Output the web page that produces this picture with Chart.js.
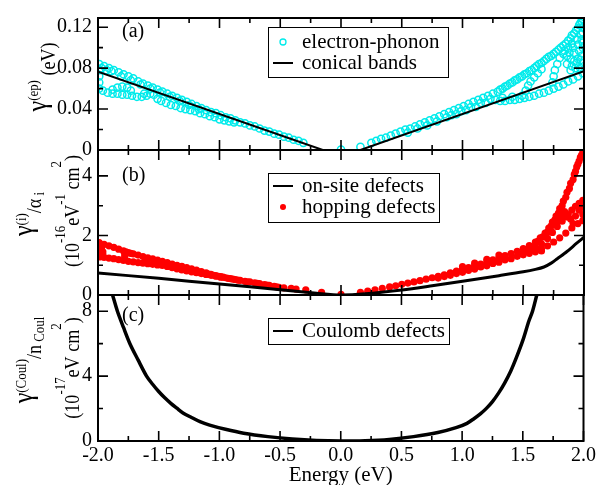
<!DOCTYPE html>
<html lang="en">
<head>
<meta charset="UTF-8">
<title>Scattering rates vs energy</title>
<script src="https://cdn.jsdelivr.net/npm/chart.js"></script>
<style>
  body { margin: 0; background: #fff; }
  #wrap { position: relative; width: 599px; height: 485px; }
  #wrap canvas { position: absolute; left: 0; top: 0; }
</style>
</head>
<body>
<div id="wrap">
  <canvas id="panelA" width="599" height="485"></canvas>
  <canvas id="panelB" width="599" height="485"></canvas>
  <canvas id="panelC" width="599" height="485"></canvas>
</div>
<script>
// ---- data: [energy (eV), value] ----
const energyTicks = [-2.0, -1.75, -1.5, -1.25, -1.0, -0.75, -0.5, -0.25, 0, 0.25, 0.5, 0.75, 1.0, 1.25, 1.5, 1.75, 2.0];
const ticksA = [0, 0.02, 0.04, 0.06, 0.08, 0.10, 0.12];
const ticksB = [0, 1, 2, 3, 4];
const ticksC = [0, 2, 4, 6, 8];

// (a) electron-phonon
const conical = [[-2.0, 0.0766], [-0.15, 0], [0.16, 0], [2.0, 0.077]];
const epLeftUpper = [[-1.99,0.084],[-1.95,0.082],[-1.91,0.080],[-1.87,0.078],[-1.83,0.076],[-1.79,0.074],[-1.75,0.072],[-1.71,0.070],[-1.67,0.067],[-1.63,0.065],[-1.59,0.063],[-1.55,0.061],[-1.51,0.059],[-1.47,0.057],[-1.43,0.055],[-1.39,0.053],[-1.35,0.051],[-1.31,0.049],[-1.27,0.047],[-1.23,0.045],[-1.19,0.043],[-1.15,0.041],[-1.11,0.039],[-1.07,0.037],[-1.03,0.036],[-0.99,0.034],[-0.95,0.032],[-0.91,0.031],[-0.87,0.029],[-0.83,0.027],[-0.79,0.026],[-0.75,0.024],[-0.71,0.023],[-0.67,0.021],[-0.63,0.019],[-0.59,0.018],[-0.55,0.016],[-0.51,0.015],[-0.47,0.013],[-0.43,0.012],[-0.39,0.010],[-0.35,0.009],[-0.31,0.007]];
const epLeftUpper2 = [[-1.97,0.080],[-1.93,0.078],[-1.89,0.077],[-1.81,0.072],[-1.73,0.068],[-1.65,0.064],[-1.57,0.060],[-1.49,0.056],[-1.41,0.052],[-1.33,0.048],[-1.25,0.044],[-1.17,0.040]];
const epLeftLower = [[-1.99,0.060],[-1.99,0.066],[-1.99,0.072],[-1.99,0.078],[-1.96,0.058],[-1.92,0.056],[-1.88,0.055],[-1.84,0.055],[-1.80,0.054],[-1.76,0.054],[-1.72,0.053],[-1.88,0.059],[-1.84,0.061],[-1.80,0.062],[-1.76,0.061],[-1.73,0.058],[-1.68,0.052],[-1.64,0.052],[-1.60,0.053],[-1.57,0.055],[-1.54,0.054],[-1.51,0.050],[-1.62,0.055],[-1.48,0.048],[-1.44,0.046],[-1.40,0.044],[-1.36,0.043],[-1.32,0.041],[-1.28,0.040],[-1.24,0.039],[-1.20,0.038],[-1.16,0.036],[-1.12,0.035],[-1.08,0.033],[-1.04,0.032],[-1.00,0.030],[-0.96,0.029],[-0.92,0.028],[-0.88,0.027]];
const epCenter = [[0.0,0.0005],[0.16,0.003]];
const epRightMain = [[0.25,0.007],[0.29,0.009],[0.33,0.011],[0.37,0.012],[0.41,0.014],[0.45,0.016],[0.49,0.018],[0.53,0.020],[0.57,0.021],[0.61,0.023],[0.65,0.025],[0.69,0.027],[0.73,0.029],[0.77,0.031],[0.81,0.033],[0.85,0.035],[0.89,0.037],[0.93,0.039],[0.97,0.041],[1.01,0.043],[1.05,0.045],[1.09,0.047],[1.13,0.049],[1.17,0.051],[1.21,0.053],[1.25,0.055],[0.55,0.017],[0.63,0.021],[0.71,0.024],[0.79,0.028],[0.87,0.032],[0.95,0.035],[1.03,0.039],[1.11,0.042],[1.19,0.046],[1.27,0.049],[0.91,0.034],[0.99,0.038],[1.07,0.042],[1.15,0.046],[1.23,0.050]];
const epRightUpper = [[1.29,0.057],[1.33,0.060],[1.37,0.063],[1.41,0.066],[1.45,0.069],[1.49,0.072],[1.53,0.075],[1.57,0.078],[1.61,0.082],[1.65,0.085],[1.69,0.089],[1.73,0.092],[1.77,0.096],[1.81,0.100],[1.85,0.104],[1.89,0.109],[1.92,0.114],[1.95,0.119],[1.97,0.124],[1.99,0.128]];
const epRightUpper2 = [[1.31,0.059],[1.35,0.062],[1.39,0.065],[1.43,0.068],[1.47,0.071],[1.51,0.074],[1.55,0.077],[1.59,0.080],[1.63,0.084],[1.67,0.087],[1.71,0.091],[1.75,0.094],[1.79,0.098],[1.83,0.102],[1.87,0.107],[1.90,0.112],[1.935,0.117],[1.96,0.122],[1.98,0.126]];
const epRightLower = [[1.31,0.048],[1.35,0.048],[1.39,0.049],[1.43,0.049],[1.47,0.050],[1.51,0.051],[1.55,0.052],[1.59,0.053],[1.63,0.055],[1.67,0.056],[1.71,0.058],[1.75,0.060],[1.79,0.062],[1.83,0.064],[1.87,0.067],[1.91,0.069],[1.95,0.072],[1.99,0.075],[1.33,0.051],[1.41,0.052],[1.49,0.053]];
const epRightLoops = [[1.52,0.058],[1.54,0.063],[1.56,0.067],[1.59,0.071],[1.62,0.075],[1.65,0.079],[1.74,0.066],[1.75,0.072],[1.76,0.078],[1.78,0.084],[1.80,0.090],[1.83,0.094],[1.86,0.092],[1.89,0.089],[1.92,0.087],[1.95,0.089],[1.98,0.092],[1.87,0.100],[1.91,0.100],[1.95,0.103],[1.98,0.108],[1.99,0.115],[1.99,0.120],[1.99,0.100],[1.99,0.085],[1.97,0.080],[1.93,0.080],[1.89,0.078],[1.84,0.097],[1.88,0.095],[1.92,0.095],[1.96,0.097],[1.99,0.105],[1.97,0.113],[1.94,0.108],[1.90,0.104],[1.86,0.084],[1.90,0.082],[1.94,0.085],[1.97,0.088]];

// (b) defects
const onsite = [[-2.0,0.74],[-1.5,0.56],[-1.0,0.37],[-0.5,0.18],[-0.2,0.06],[0,0],[0.2,0.04],[0.5,0.17],[0.75,0.31],[1.0,0.46],[1.3,0.65],[1.5,0.78],[1.6,0.86],[1.67,0.94],[1.73,1.07],[1.78,1.22],[1.86,1.46],[1.94,1.74],[2.0,1.94]];
const hopLeftUpper = [[-1.99,1.76],[-1.95,1.70],[-1.91,1.65],[-1.87,1.60],[-1.83,1.54],[-1.79,1.48],[-1.75,1.42],[-1.71,1.38],[-1.67,1.34],[-1.63,1.29],[-1.59,1.25],[-1.55,1.21],[-1.51,1.17],[-1.47,1.13],[-1.43,1.09],[-1.39,1.04],[-1.35,1.00],[-1.31,0.96],[-1.27,0.92],[-1.23,0.88],[-1.19,0.84],[-1.15,0.79],[-1.11,0.74],[-1.07,0.69],[-1.03,0.65],[-0.99,0.62],[-0.95,0.58],[-0.91,0.55],[-0.87,0.52],[-0.83,0.49],[-0.79,0.46],[-0.75,0.44],[-0.71,0.41],[-0.67,0.38],[-0.63,0.35],[-0.59,0.32],[-0.55,0.29],[-0.51,0.26],[-0.47,0.24],[-0.41,0.22],[-0.37,0.20],[-0.29,0.17],[-0.16,0.09],[0.0,0.02]];
const hopLeftLower = [[-1.99,1.28],[-1.99,1.40],[-1.99,1.52],[-1.99,1.64],[-1.95,1.26],[-1.91,1.24],[-1.87,1.22],[-1.83,1.19],[-1.79,1.16],[-1.75,1.13],[-1.71,1.11],[-1.67,1.09],[-1.63,1.07],[-1.59,1.05],[-1.55,1.03],[-1.51,1.01],[-1.47,0.99],[-1.43,0.96],[-1.39,0.92],[-1.35,0.88],[-1.31,0.84],[-1.27,0.81],[-1.23,0.78],[-1.19,0.75],[-1.15,0.72],[-1.11,0.69],[-1.07,0.66],[-1.03,0.63],[-0.99,0.60],[-0.93,0.56],[-0.89,0.53],[-1.96,1.45],[-1.96,1.36],[-1.78,1.30],[-1.78,1.38],[-1.60,1.12],[-1.60,1.18]];
const hopLeftMid = [[-1.97,1.60],[-1.97,1.50],[-1.77,1.45],[-1.73,1.40],[-1.53,1.15],[-1.49,1.08],[-1.45,1.04],[-1.41,1.00],[-1.37,0.96],[-1.33,0.92],[-1.29,0.88],[-1.25,0.85],[-1.21,0.81],[-1.17,0.77],[-1.13,0.73],[-1.09,0.70],[-1.05,0.66],[-1.01,0.63],[-0.97,0.60],[-0.85,0.50],[-0.77,0.44],[-0.69,0.39],[-0.61,0.33],[-0.53,0.27]];
const hopRightMain = [[0.16,0.09],[0.22,0.13],[0.28,0.17],[0.34,0.22],[0.40,0.27],[0.45,0.31],[0.50,0.36],[0.55,0.40],[0.60,0.44],[0.65,0.48],[0.70,0.53],[0.75,0.58],[0.80,0.63],[0.85,0.68],[0.90,0.74],[0.95,0.80],[1.00,0.86],[1.05,0.92],[1.10,0.98],[1.15,1.04],[1.20,1.11],[1.25,1.18],[1.30,1.25],[1.35,1.32],[1.40,1.39],[0.80,0.57],[0.90,0.66],[1.00,0.76],[1.10,0.87],[1.20,0.98],[1.30,1.10],[1.40,1.22],[1.00,0.95],[1.10,1.07],[1.20,1.20],[1.30,1.34],[0.85,0.62],[0.95,0.72],[1.05,0.83],[1.15,0.94],[1.25,1.06],[1.35,1.18]];
const hopRightUpper = [[1.45,1.47],[1.50,1.56],[1.55,1.66],[1.60,1.78],[1.64,1.92],[1.68,2.08],[1.71,2.25],[1.74,2.45],[1.77,2.65],[1.80,2.90],[1.83,3.15],[1.86,3.45],[1.89,3.75],[1.92,4.05],[1.94,4.30],[1.96,4.50],[1.98,4.70],[1.99,4.85],[1.62,1.80],[1.66,1.95],[1.70,2.12],[1.73,2.32],[1.76,2.52],[1.79,2.75],[1.82,3.00],[1.85,3.28],[1.88,3.58],[1.91,3.88],[1.93,4.15],[1.95,4.40],[1.97,4.62]];
const hopRightMid = [[1.50,1.42],[1.55,1.50],[1.60,1.60],[1.65,1.72],[1.70,1.90],[1.74,2.10],[1.78,2.30],[1.82,2.48],[1.86,2.62],[1.90,2.85],[1.93,2.98],[1.96,3.08],[1.99,3.18]];
const hopRightLower = [[1.45,1.30],[1.50,1.35],[1.55,1.40],[1.60,1.45],[1.65,1.55],[1.70,1.65],[1.75,1.78],[1.80,1.92],[1.85,2.08],[1.90,2.25],[1.95,2.40],[1.99,2.50]];
const hopRightLoops = [[1.52,1.50],[1.55,1.58],[1.58,1.62],[1.62,1.55],[1.65,1.48],[1.78,2.46],[1.81,2.62],[1.84,2.80],[1.87,2.70],[1.89,2.55],[1.91,2.40],[1.93,2.65],[1.96,2.85],[1.99,2.95],[1.99,2.70]];

// (c) Coulomb
const coulomb = [[-1.88,9.0],[-1.84,8.0],[-1.79,7.0],[-1.737,6.0],[-1.67,5.0],[-1.60,4.0],[-1.55,3.5],[-1.50,3.05],[-1.45,2.66],[-1.40,2.32],[-1.35,2.02],[-1.30,1.73],[-1.23,1.45],[-1.16,1.19],[-1.08,0.98],[-0.95,0.72],[-0.80,0.48],[-0.60,0.27],[-0.40,0.12],[-0.20,0.03],[0,0],[0.2,0.02],[0.4,0.10],[0.6,0.27],[0.8,0.52],[0.95,0.82],[1.04,1.09],[1.10,1.39],[1.15,1.67],[1.20,2.01],[1.25,2.43],[1.30,2.95],[1.35,3.57],[1.40,4.3],[1.45,5.2],[1.50,6.2],[1.55,7.4],[1.58,8.0],[1.615,9.0]];

// ---- helpers ----
const FONT = "'Liberation Serif', 'Times New Roman', serif";
const CYAN = 'rgb(0, 235, 235)';
const RED = '#ff0000';

const pts = arr => arr.map(p => ({ x: p[0], y: p[1] }));
const isMajor = (v, step) => Math.abs(v / step - Math.round(v / step)) < 1e-6;

function richText(ctx, x, y, parts) {
  // rotated, slightly condensed text; (x,y) = baseline x, centre y
  const sq = 0.86;
  let total = 0;
  parts.forEach(p => { ctx.font = p[1] + 'px ' + FONT; total += ctx.measureText(p[0]).width; });
  ctx.save();
  ctx.translate(x, y);
  ctx.rotate(-Math.PI / 2);
  ctx.scale(sq, 1);
  ctx.textAlign = 'left';
  ctx.textBaseline = 'alphabetic';
  ctx.fillStyle = '#000';
  let cx = -total / 2;
  parts.forEach(p => {
    ctx.font = p[1] + 'px ' + FONT;
    ctx.fillText(p[0], cx, p[2]);
    cx += ctx.measureText(p[0]).width;
  });
  ctx.restore();
}

const frame = {
  id: 'frame',
  afterDraw(chart, args, o) {
    const { ctx, chartArea: a, scales } = chart;
    ctx.save();
    ctx.strokeStyle = '#000';
    ctx.lineWidth = 1.6;
    ctx.beginPath();
    energyTicks.forEach(v => {
      const x = scales.x.getPixelForValue(v);
      const len = isMajor(v, 0.5) ? 10 : 5;
      ctx.moveTo(x, a.bottom); ctx.lineTo(x, a.bottom - len);
      ctx.moveTo(x, a.top); ctx.lineTo(x, a.top + len);
    });
    o.yTicks.forEach(v => {
      const y = scales.y.getPixelForValue(v);
      const len = isMajor(v, o.yMajor) ? 10 : 5;
      ctx.moveTo(a.left, y); ctx.lineTo(a.left + len, y);
      ctx.moveTo(a.right, y); ctx.lineTo(a.right - len, y);
    });
    ctx.stroke();
    ctx.lineWidth = 2;
    ctx.strokeRect(a.left, a.top, a.right - a.left, a.bottom - a.top);

    // panel letter
    ctx.fillStyle = '#000';
    ctx.font = '20px ' + FONT;
    ctx.textBaseline = 'middle';
    ctx.textAlign = 'left';
    ctx.fillText(o.letter, 122, o.letterY);

    // legend
    const L = o.legend;
    ctx.fillStyle = '#fff';
    ctx.fillRect(L.box[0], L.box[1], L.box[2], L.box[3]);
    ctx.lineWidth = 1;
    ctx.strokeStyle = '#000';
    ctx.strokeRect(L.box[0] + 0.5, L.box[1] + 0.5, L.box[2], L.box[3]);
    L.items.forEach(it => {
      if (it.kind === 'line') {
        ctx.strokeStyle = '#000'; ctx.lineWidth = 2;
        ctx.beginPath(); ctx.moveTo(273, it.y); ctx.lineTo(293, it.y); ctx.stroke();
      } else if (it.kind === 'open') {
        ctx.strokeStyle = CYAN; ctx.lineWidth = 1.3;
        ctx.beginPath(); ctx.arc(283, it.y, 3, 0, Math.PI * 2); ctx.stroke();
      } else {
        ctx.fillStyle = RED;
        ctx.beginPath(); ctx.arc(283, it.y, 3, 0, Math.PI * 2); ctx.fill();
      }
      ctx.fillStyle = '#000';
      ctx.font = '21px ' + FONT;
      ctx.textBaseline = 'middle';
      ctx.fillText(it.text, 302, it.y);
    });

    // y-axis titles
    o.titles.forEach(t => richText(ctx, t.x, t.y, t.parts));
    ctx.restore();
  }
};

function xScale(show) {
  return {
    type: 'linear', min: -2, max: 2, display: show,
    afterBuildTicks: s => { s.ticks = energyTicks.map(v => ({ value: v })); },
    afterFit: s => { s.height = show ? 44 : 0; },
    grid: { display: false, drawTicks: false },
    border: { display: false },
    ticks: {
      autoSkip: false, maxRotation: 0, padding: 3, color: '#000',
      font: { family: FONT, size: 20 },
      callback: v => isMajor(v, 0.5) ? v.toFixed(1) : ''
    },
    title: {
      display: true, text: 'Energy (eV)', color: '#000',
      font: { family: FONT, size: 21 }, padding: { top: 0, bottom: -3 }
    }
  };
}

function yScale(max, ticks, major, fmt) {
  return {
    type: 'linear', min: 0, max: max,
    afterBuildTicks: s => { s.ticks = ticks.map(v => ({ value: v })); },
    afterFit: s => { s.width = 98; },
    grid: { display: false, drawTicks: false },
    border: { display: false },
    ticks: {
      padding: 6, color: '#000',
      font: { family: FONT, size: 20 },
      callback: v => isMajor(v, major) ? fmt(v) : ''
    }
  };
}

const lineSet = (data, w, t) => ({
  data: pts(data), showLine: true, pointRadius: 0, borderColor: '#000',
  borderWidth: w, fill: false, clip: 0, tension: t
});
const openSet = data => ({
  data: pts(data), showLine: false, pointRadius: 3.6, borderColor: CYAN,
  backgroundColor: 'rgba(0,0,0,0)', borderWidth: 1.5, clip: 0
});
const dotSet = data => ({
  data: pts(data), showLine: false, pointRadius: 3.6, borderWidth: 0,
  backgroundColor: RED, borderColor: RED, clip: 0
});

function makeChart(id, top, bottom, showX, yOpts, datasets, frameOpts) {
  return new Chart(document.getElementById(id), {
    type: 'scatter',
    data: { datasets: datasets },
    options: {
      responsive: false, animation: false,
      layout: { padding: { top: top, bottom: bottom, left: 0, right: 15 } },
      scales: { x: xScale(showX), y: yOpts },
      plugins: { legend: { display: false }, tooltip: { enabled: false }, frame: frameOpts }
    },
    plugins: [frame]
  });
}

// panel (a)
makeChart('panelA', 8, 335, false,
  yScale(0.129, ticksA, 0.04, v => v === 0 ? '0' : v.toFixed(2)),
  [lineSet(conical, 2, 0), openSet(epLeftUpper), openSet(epLeftUpper2), openSet(epLeftLower), openSet(epCenter),
   openSet(epRightMain), openSet(epRightUpper), openSet(epRightUpper2), openSet(epRightLower), openSet(epRightLoops)],
  {
    yTicks: ticksA, yMajor: 0.04, letter: '(a)', letterY: 32,
    legend: { box: [268, 27, 180, 50], items: [
      { kind: 'open', y: 42, text: 'electron-phonon' },
      { kind: 'line', y: 63, text: 'conical bands' }] },
    titles: [{ x: 55, y: 77, parts: [['\u03b3', 28, -9], ['(ep)', 15, -17], [' ', 21, 0], ['(eV)', 21, 0]] }]
  });

// panel (b)
makeChart('panelB', 150, 190, false,
  yScale(4.87, ticksB, 2, v => String(v)),
  [lineSet(onsite, 3, 0.3), dotSet(hopLeftUpper), dotSet(hopLeftLower), dotSet(hopLeftMid), dotSet(hopRightMain),
   dotSet(hopRightUpper), dotSet(hopRightMid), dotSet(hopRightLower), dotSet(hopRightLoops)],
  {
    yTicks: ticksB, yMajor: 2, letter: '(b)', letterY: 176,
    legend: { box: [268, 173, 171, 49], items: [
      { kind: 'line', y: 186, text: 'on-site defects' },
      { kind: 'dot', y: 207, text: 'hopping defects' }] },
    titles: [
      { x: 41, y: 214, parts: [['\u03b3', 28, -9], ['(i)', 15, -15], ['/\u03b1', 21, 0], [' i', 15, 3]] },
      { x: 79, y: 211, parts: [['(10', 21, 0], ['-16', 15, -14], ['eV', 21, 0], ['-1', 15, -14], [' cm', 21, 0], ['2', 15, -18], [')', 21, 0]] }
    ]
  });

// panel (c)
makeChart('panelC', 295, 0, true,
  yScale(9, ticksC, 4, v => String(v)),
  [lineSet(coulomb, 3.5, 0.3)],
  {
    yTicks: ticksC, yMajor: 4, letter: '(c)', letterY: 316,
    legend: { box: [268, 318, 181, 26], items: [
      { kind: 'line', y: 331, text: 'Coulomb defects' }] },
    titles: [
      { x: 41, y: 360, parts: [['\u03b3', 28, -9], ['(Coul)', 15, -15], ['/n', 21, 0], [' Coul', 15, 3]] },
      { x: 79, y: 368, parts: [['(10', 21, 0], ['-17', 15, -14], ['eV cm', 21, 0], ['2', 15, -18], [')', 21, 0]] }
    ]
  });
</script>
</body>
</html>
